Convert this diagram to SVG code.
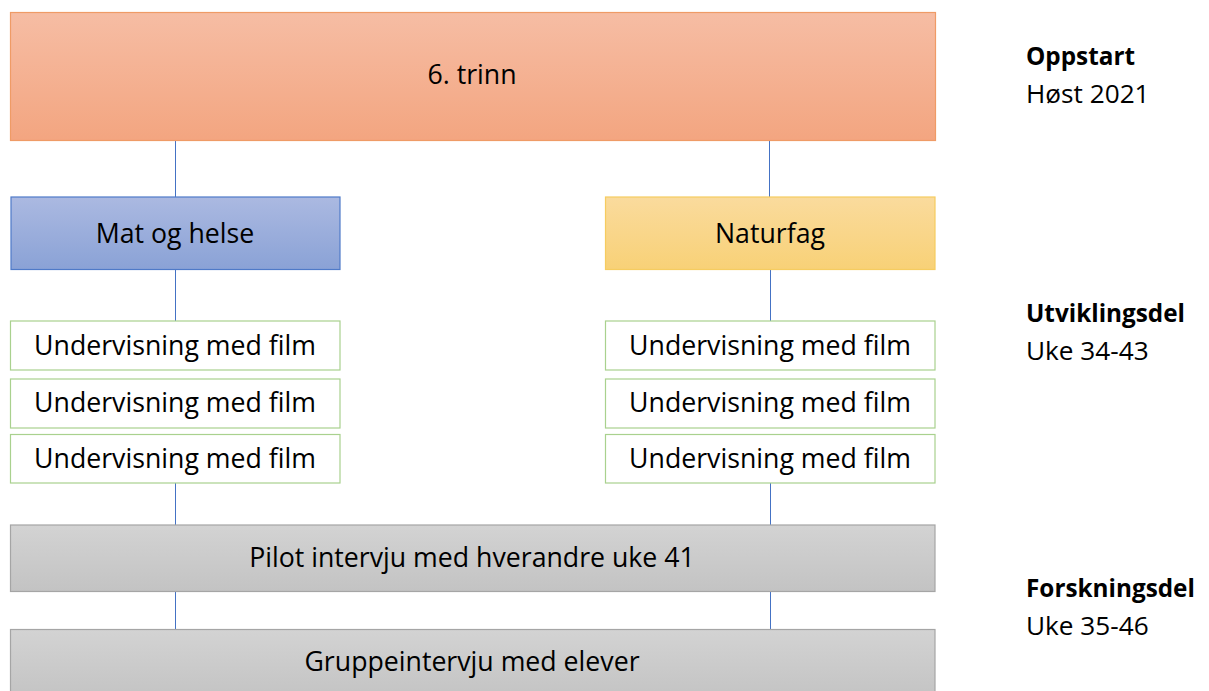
<svg xmlns="http://www.w3.org/2000/svg" width="1209" height="691" viewBox="0 0 1209 691">
  <style>
    .lbl { font-family: "Open Sans", "Liberation Sans", sans-serif; font-size: 26.7px; fill: #000; text-anchor: middle; }
    .side { font-family: "Open Sans", "Liberation Sans", sans-serif; font-size: 26.2px; fill: #000; }
    .side-b { font-weight: bold; font-size: 24.3px; }
    .link { stroke: #4472c4; stroke-width: 1; fill: none; }
    .film { fill: #ffffff; stroke: #a9d18e; stroke-width: 1.2; }
    .gray { fill: url(#gGray); stroke: #a5a5a5; stroke-width: 1.2; }
  </style>
  <defs>
    <linearGradient id="gOrange" x1="0" y1="0" x2="0" y2="1">
      <stop offset="0" stop-color="#f6bda4"/>
      <stop offset="1" stop-color="#f3a580"/>
    </linearGradient>
    <linearGradient id="gBlue" x1="0" y1="0" x2="0" y2="1">
      <stop offset="0" stop-color="#abb9e1"/>
      <stop offset="1" stop-color="#8aa2d6"/>
    </linearGradient>
    <linearGradient id="gYellow" x1="0" y1="0" x2="0" y2="1">
      <stop offset="0" stop-color="#fadb9d"/>
      <stop offset="1" stop-color="#f8d177"/>
    </linearGradient>
    <linearGradient id="gGray" x1="0" y1="0" x2="0" y2="1">
      <stop offset="0" stop-color="#d3d3d3"/>
      <stop offset="1" stop-color="#c3c3c3"/>
    </linearGradient>
  </defs>
  <rect width="1209" height="691" fill="#ffffff"/>

  <g id="connectors">
    <line class="link" x1="175.5" y1="140" x2="175.5" y2="197"/>
    <line class="link" x1="175.5" y1="270" x2="175.5" y2="321"/>
    <line class="link" x1="175.5" y1="483" x2="175.5" y2="525"/>
    <line class="link" x1="175.5" y1="592" x2="175.5" y2="629"/>
    <line class="link" x1="769.5" y1="140" x2="769.5" y2="197"/>
    <line class="link" x1="770.5" y1="270" x2="770.5" y2="321"/>
    <line class="link" x1="770.5" y1="483" x2="770.5" y2="525"/>
    <line class="link" x1="770.5" y1="592" x2="770.5" y2="629"/>
  </g>

  <g id="trinn">
    <rect x="10.5" y="12.5" width="925" height="128" fill="url(#gOrange)" stroke="#ef9b66" stroke-width="1.2"/>
    <text class="lbl" x="472" y="84">6. trinn</text>
  </g>

  <g id="mat-og-helse">
    <rect x="11" y="197" width="329" height="72.5" fill="url(#gBlue)" stroke="#4f7ac8" stroke-width="1.2"/>
    <text class="lbl" x="175" y="243">Mat og helse</text>
  </g>

  <g id="naturfag">
    <rect x="605.5" y="197" width="329.5" height="72.5" fill="url(#gYellow)" stroke="#f6cc60" stroke-width="1.2"/>
    <text class="lbl" x="770" y="243">Naturfag</text>
  </g>

  <g id="film-left-1">
    <rect class="film" x="10.5" y="321" width="329.5" height="49"/>
    <text class="lbl" x="175" y="355">Undervisning med film</text>
  </g>
  <g id="film-left-2">
    <rect class="film" x="10.5" y="379" width="329.5" height="49"/>
    <text class="lbl" x="175" y="412">Undervisning med film</text>
  </g>
  <g id="film-left-3">
    <rect class="film" x="10.5" y="434.5" width="329.5" height="48.5"/>
    <text class="lbl" x="175" y="468">Undervisning med film</text>
  </g>

  <g id="film-right-1">
    <rect class="film" x="605.5" y="321" width="329.5" height="49"/>
    <text class="lbl" x="770" y="355">Undervisning med film</text>
  </g>
  <g id="film-right-2">
    <rect class="film" x="605.5" y="379" width="329.5" height="49"/>
    <text class="lbl" x="770" y="412">Undervisning med film</text>
  </g>
  <g id="film-right-3">
    <rect class="film" x="605.5" y="434.5" width="329.5" height="48.5"/>
    <text class="lbl" x="770" y="468">Undervisning med film</text>
  </g>

  <g id="pilot">
    <rect class="gray" x="10.5" y="525" width="924.5" height="66.5"/>
    <text class="lbl" x="472" y="567">Pilot intervju med hverandre uke 41</text>
  </g>

  <g id="gruppeintervju">
    <rect class="gray" x="10.5" y="629.5" width="924.5" height="70"/>
    <text class="lbl" x="472" y="671">Gruppeintervju med elever</text>
  </g>

  <g id="phase-oppstart">
    <text class="side side-b" x="1026" y="65">Oppstart</text>
    <text class="side" x="1026" y="103">Høst 2021</text>
  </g>
  <g id="phase-utvikling">
    <text class="side side-b" x="1026" y="322">Utviklingsdel</text>
    <text class="side" x="1026" y="360">Uke 34-43</text>
  </g>
  <g id="phase-forskning">
    <text class="side side-b" x="1026" y="597">Forskningsdel</text>
    <text class="side" x="1026" y="635">Uke 35-46</text>
  </g>
</svg>
